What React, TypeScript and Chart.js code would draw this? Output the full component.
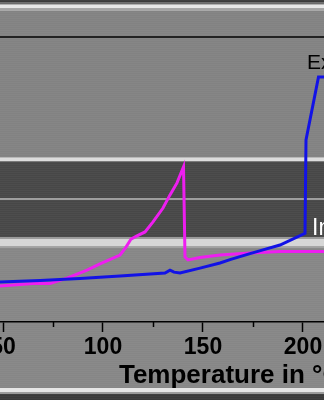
import React, { useEffect, useRef } from 'react';
import { Chart, registerables } from 'chart.js';

Chart.register(...registerables);

// ---- data (temperature in °C vs. signal, arbitrary units) ----
const exSituX = [45, 48.5, 68.5, 88.5, 108.5, 131, 133.5, 135.5, 138.5, 148.5, 158.5, 163.5, 173.5, 180, 188.5, 201, 201.5, 207.75, 214];
const exSituY = [13.8, 14.0, 14.6, 15.3, 16.1, 17.2, 18.2, 17.5, 17.2, 18.9, 20.7, 21.9, 24.0, 25.3, 27.0, 31.1, 63.9, 86.0, 86.0];

const inSituX = [43.5, 48.5, 65, 73.5, 82, 92, 98.5, 108.5, 111.5, 114, 117, 121, 125, 130, 133.5, 137, 140.25, 141, 142.5, 148.5, 158.5, 173.5, 188.5, 214];
const inSituY = [12.3, 12.6, 13.5, 13.5, 15.4, 18.2, 20.4, 23.5, 26.3, 29.1, 30.2, 31.6, 35.1, 40.0, 44.6, 48.8, 54.4, 22.8, 21.8, 22.6, 23.5, 24.2, 24.7, 24.7];

const tickValues = [50, 75, 100, 125, 150, 175, 200, 225, 250, 275];
const labeledStep = 50;
const xTitle = 'Temperature in °C';
const exLabel = 'Ex';
const inLabel = 'In';
const exLabelPos = [202, 88.6];
const inLabelPos = [204.5, 30.5];

// ---- layout ----
const OFFSET_LEFT = 17;
const CANVAS_W = 495;
const CANVAS_H = 400;
const FONT = '"Liberation Sans", Arial, Helvetica, sans-serif';

const bands: [number, number, string][] = [
  [0, 2, '#3c3c3c'],
  [2, 4, '#6c6c6c'],
  [4, 5, '#b0b0b0'],
  [5, 8, '#e8e8e8'],
  [8, 11, '#a6a6a6'],
  [11, 157, '#828282'],
  [157, 158, '#b8b8b8'],
  [158, 161, '#dcdcdc'],
  [161, 162, '#7a7a7a'],
  [162, 198, '#474747'],
  [198, 200, '#9c9c9c'],
  [200, 237, '#474747'],
  [237, 239, '#9a9a9a'],
  [239, 246, '#d6d6d6'],
  [246, 248, '#a2a2a2'],
  [248, 388, '#868686'],
  [388, 392, '#e6e6e6'],
  [392, 394, '#9a9a9a'],
  [394, 400, '#3a3a3a'],
];

const backgroundPlugin = {
  id: 'stripedBackground',
  beforeDraw(chart: any) {
    const { ctx, width } = chart;
    ctx.save();
    for (const [a, b, c] of bands) {
      ctx.fillStyle = c;
      ctx.fillRect(0, a, width, b - a);
    }
    ctx.fillStyle = 'rgba(255,255,255,0.035)';
    for (let y = 0; y < CANVAS_H; y += 2) ctx.fillRect(0, y, width, 1);
    ctx.restore();
  },
};

const decorPlugin = {
  id: 'decor',
  afterDraw(chart: any) {
    const { ctx, chartArea } = chart;
    const xs = chart.scales.x;
    const ys = chart.scales.y;
    ctx.save();
    // top frame line
    ctx.strokeStyle = '#000';
    ctx.lineWidth = 1.5;
    ctx.beginPath();
    ctx.moveTo(chartArea.left, chartArea.top);
    ctx.lineTo(chartArea.right, chartArea.top);
    ctx.stroke();
    // minor ticks
    for (const v of tickValues) {
      if (v % labeledStep === 0) continue;
      const px = Math.round(xs.getPixelForValue(v)) + 0.5;
      ctx.beginPath();
      ctx.moveTo(px, chartArea.bottom);
      ctx.lineTo(px, chartArea.bottom + 5);
      ctx.stroke();
    }
    // curve labels
    ctx.textBaseline = 'alphabetic';
    ctx.textAlign = 'left';
    ctx.font = `21px ${FONT}`;
    ctx.fillStyle = '#000';
    ctx.fillText(exLabel, xs.getPixelForValue(exLabelPos[0]), ys.getPixelForValue(exLabelPos[1]));
    ctx.font = `23px ${FONT}`;
    ctx.fillStyle = '#ffffff';
    ctx.fillText(inLabel, xs.getPixelForValue(inLabelPos[0]), ys.getPixelForValue(inLabelPos[1]));
    ctx.restore();
  },
};

export default function App() {
  const ref = useRef<HTMLCanvasElement | null>(null);

  useEffect(() => {
    if (!ref.current) return;
    const chart = new Chart(ref.current, {
      type: 'line',
      data: {
        datasets: [
          {
            label: 'Ex situ',
            data: exSituX.map((x, i) => ({ x, y: exSituY[i] })),
            borderColor: '#1212e6',
            borderWidth: 3,
            pointRadius: 0,
            tension: 0,
            fill: false,
          },
          {
            label: 'In situ',
            data: inSituX.map((x, i) => ({ x, y: inSituY[i] })),
            borderColor: '#ee1ef0',
            borderWidth: 3,
            pointRadius: 0,
            tension: 0,
            fill: false,
          },
        ],
      },
      options: {
        animation: false,
        responsive: false,
        devicePixelRatio: 1,
        layout: { padding: { left: 10, right: 10.8, top: 37, bottom: 11.4 } },
        plugins: { legend: { display: false }, tooltip: { enabled: false }, title: { display: false } },
        scales: {
          x: {
            type: 'linear',
            min: 45,
            max: 282.1,
            afterBuildTicks: (scale: any) => {
              scale.ticks = tickValues.map((value) => ({ value }));
            },
            ticks: {
              autoSkip: false,
              maxRotation: 0,
              padding: 1.5,
              color: '#000',
              font: { family: FONT, size: 23, weight: 'bold' },
              callback: (v: any) => (Number(v) % labeledStep === 0 ? String(v) : ''),
            },
            grid: {
              display: true,
              drawOnChartArea: false,
              drawTicks: true,
              tickLength: 10,
              tickWidth: 1.5,
              tickColor: (ctx: any) => (ctx.tick && ctx.tick.value % labeledStep === 0 ? '#000' : 'rgba(0,0,0,0)'),
            },
            border: { display: true, color: '#000', width: 1.5 },
            title: {
              display: true,
              text: xTitle,
              color: '#000',
              padding: { top: 0, bottom: 0 },
              font: { family: FONT, size: 26, weight: 'bold', lineHeight: 1.0 },
            },
          },
          y: {
            type: 'linear',
            min: 0,
            max: 100,
            display: false,
          },
        },
      },
      plugins: [backgroundPlugin, decorPlugin],
    });
    return () => chart.destroy();
  }, []);

  return (
    <div style={{ position: 'fixed', left: 0, top: 0, width: 324, height: 400, overflow: 'hidden' }}>
      <canvas
        ref={ref}
        width={CANVAS_W}
        height={CANVAS_H}
        style={{ position: 'absolute', left: -OFFSET_LEFT, top: 0, width: CANVAS_W, height: CANVAS_H }}
      />
    </div>
  );
}
